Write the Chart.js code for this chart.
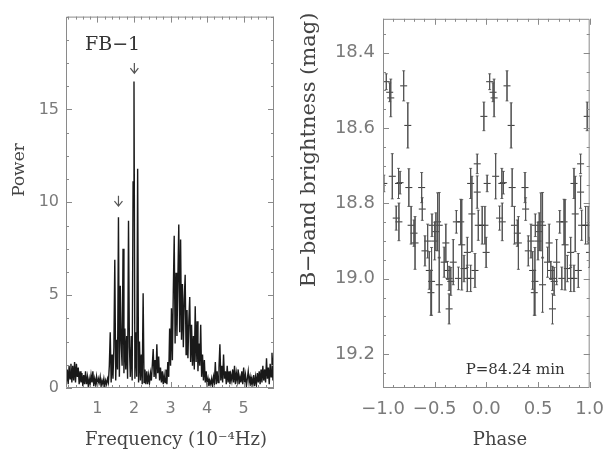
<!DOCTYPE html>
<html>
<head>
<meta charset="utf-8">
<script src="https://cdn.jsdelivr.net/npm/chart.js@4.4.0/dist/chart.umd.min.js"></script>
<style>
    body { margin: 0; background: #ffffff; }
    #idChartPower { position: absolute; left: 0; top: 0; }
    #idChartPhase { position: absolute; left: 300px; top: 0; }
</style>
</head>
<body>
<canvas id="idChartPower" width="300" height="451"></canvas>
<canvas id="idChartPhase" width="315" height="451"></canvas>
<script>
// periodogram of FB-1 (frequency in 1e-4 Hz)
var aFreq = [
    0.150, 0.175, 0.200, 0.225, 0.250, 0.275, 0.300, 0.325,
    0.350, 0.375, 0.400, 0.425, 0.450, 0.475, 0.500, 0.525,
    0.550, 0.575, 0.600, 0.625, 0.650, 0.675, 0.700, 0.725,
    0.750, 0.775, 0.800, 0.825, 0.850, 0.875, 0.900, 0.925,
    0.950, 0.975, 1.000, 1.025, 1.050, 1.075, 1.100, 1.125,
    1.150, 1.175, 1.200, 1.225, 1.250, 1.275, 1.300, 1.325,
    1.350, 1.375, 1.400, 1.425, 1.450, 1.475, 1.500, 1.525,
    1.550, 1.575, 1.600, 1.625, 1.650, 1.675, 1.700, 1.725,
    1.750, 1.775, 1.800, 1.825, 1.850, 1.875, 1.900, 1.925,
    1.950, 1.975, 2.000, 2.025, 2.050, 2.075, 2.100, 2.125,
    2.150, 2.175, 2.200, 2.225, 2.250, 2.275, 2.300, 2.325,
    2.350, 2.375, 2.400, 2.425, 2.450, 2.475, 2.500, 2.525,
    2.550, 2.575, 2.600, 2.625, 2.650, 2.675, 2.700, 2.725,
    2.750, 2.775, 2.800, 2.825, 2.850, 2.875, 2.900, 2.925,
    2.950, 2.975, 3.000, 3.025, 3.050, 3.075, 3.100, 3.125,
    3.150, 3.175, 3.200, 3.225, 3.250, 3.275, 3.300, 3.325,
    3.350, 3.375, 3.400, 3.425, 3.450, 3.475, 3.500, 3.525,
    3.550, 3.575, 3.600, 3.625, 3.650, 3.675, 3.700, 3.725,
    3.750, 3.775, 3.800, 3.825, 3.850, 3.875, 3.900, 3.925,
    3.950, 3.975, 4.000, 4.025, 4.050, 4.075, 4.100, 4.125,
    4.150, 4.175, 4.200, 4.225, 4.250, 4.275, 4.300, 4.325,
    4.350, 4.375, 4.400, 4.425, 4.450, 4.475, 4.500, 4.525,
    4.550, 4.575, 4.600, 4.625, 4.650, 4.675, 4.700, 4.725,
    4.750, 4.775, 4.800, 4.825, 4.850, 4.875, 4.900, 4.925,
    4.950, 4.975, 5.000, 5.025, 5.050, 5.075, 5.100, 5.125,
    5.150, 5.175, 5.200, 5.225, 5.250, 5.275, 5.300, 5.325,
    5.350, 5.375, 5.400, 5.425, 5.450, 5.475, 5.500, 5.525,
    5.550, 5.575, 5.600, 5.625, 5.650, 5.675, 5.700, 5.725,
    5.750, 5.775, 5.800, 5.825
];
var aPower = [
    0.3, 1.0, 0.2, 1.2, 0.5, 1.3, 0.3, 1.2,
    0.4, 1.4, 0.3, 1.3, 0.6, 1.1, 0.2, 0.9,
    0.3, 0.8, 0.1, 0.7, 0.2, 0.9, 0.2, 0.6,
    0.1, 0.5, 0.2, 0.7, 0.3, 0.9, 0.1, 0.5,
    0.2, 0.6, 0.1, 0.5, 0.3, 0.6, 0.1, 0.4,
    0.2, 0.5, 0.1, 0.4, 0.2, 0.5, 0.3, 1.2,
    3.0, 0.3, 1.8, 0.5, 2.2, 6.9, 0.4, 2.6,
    1.0, 9.2, 0.6, 5.5, 2.4, 1.2, 7.5, 0.8,
    3.2, 1.0, 2.8, 0.5, 9.0, 2.2, 0.6, 2.8,
    0.4, 11.1, 16.5, 0.5, 3.0, 0.6, 11.8, 0.3,
    2.5, 0.4, 1.8, 0.2, 5.1, 0.3, 1.0, 0.2,
    0.9, 0.2, 0.7, 0.3, 0.8, 0.4, 1.2, 2.1,
    0.6, 1.5, 0.5, 2.35, 0.8, 1.7, 0.4, 1.1,
    0.3, 0.9, 0.2, 0.7, 0.3, 1.0, 0.2, 1.4,
    0.6, 3.2, 1.2, 4.3, 1.5, 5.2, 8.2, 2.4,
    6.2, 2.8, 5.8, 8.8, 3.0, 8.0, 2.6, 5.6,
    2.2, 4.8, 6.1, 1.8, 4.2, 1.6, 3.6, 4.9,
    1.4, 3.4, 1.2, 2.8, 1.0, 4.4, 1.4, 3.6,
    0.9, 2.4, 1.2, 3.4, 0.6, 1.8, 0.4, 1.5,
    0.3, 0.9, 0.2, 0.5, 0.1, 0.4, 0.2, 0.5,
    0.1, 0.6, 0.3, 1.4, 0.2, 0.9, 0.3, 1.1,
    2.35, 0.4, 1.2, 0.3, 1.8, 0.5, 0.9, 0.2,
    1.2, 0.3, 0.9, 0.2, 0.7, 0.4, 1.0, 0.3,
    1.2, 0.2, 0.8, 0.4, 1.0, 0.2, 0.6, 0.3,
    0.9, 0.2, 1.1, 0.3, 0.7, 0.1, 0.5, 0.9,
    0.3, 0.6, 0.1, 0.5, 0.2, 0.7, 0.1, 0.6,
    0.2, 0.8, 0.3, 0.9, 0.2, 1.0, 0.3, 1.2,
    0.4, 1.0, 0.3, 1.6, 0.5, 1.1, 0.2, 1.3,
    0.6, 1.9, 0.4, 2.0
];
var aFreqTicks = [1, 2, 3, 4, 5];
var aPowerTicks = [0, 5, 10, 15];

// folded B-band light curve, one cycle (plotted twice)
var aPhase = [
    0.008, 0.032, 0.065, 0.075, 0.090, 0.128, 0.150, 0.154, 0.165, 0.200,
    0.240, 0.250, 0.272, 0.300, 0.310, 0.374, 0.380, 0.406, 0.432, 0.448,
    0.464, 0.470, 0.474, 0.500, 0.512, 0.528, 0.544, 0.544, 0.592, 0.608,
    0.624, 0.640, 0.640, 0.656, 0.680, 0.710, 0.730, 0.752, 0.762, 0.784,
    0.816, 0.816, 0.848, 0.848, 0.860, 0.890, 0.912, 0.912, 0.922, 0.960,
    0.976, 0.986, 0.998
];
var aMag = [
    18.747, 18.477, 18.505, 18.520, 18.728, 18.839, 18.747, 18.849, 18.745, 18.488,
    18.593, 18.758, 18.858, 18.879, 18.905, 18.758, 18.815, 18.926, 18.900, 18.978,
    19.037, 19.007, 18.858, 18.900, 18.875, 18.849, 18.858, 19.016, 18.956, 18.905,
    18.978, 18.999, 19.080, 19.007, 18.956, 18.849, 18.999, 18.849, 18.910, 18.973,
    18.930, 18.999, 18.999, 18.747, 18.828, 18.978, 18.695, 18.770, 18.858, 18.858,
    18.569, 18.858, 18.930
];
var aErr = [
    0.022, 0.021, 0.025, 0.050, 0.060, 0.032, 0.040, 0.050, 0.030, 0.040,
    0.060, 0.050, 0.050, 0.035, 0.070, 0.040, 0.030, 0.040, 0.045, 0.050,
    0.060, 0.090, 0.030, 0.050, 0.050, 0.077, 0.087, 0.073, 0.040, 0.050,
    0.024, 0.032, 0.040, 0.037, 0.060, 0.030, 0.030, 0.060, 0.120, 0.035,
    0.040, 0.035, 0.035, 0.040, 0.100, 0.045, 0.026, 0.043, 0.040, 0.050,
    0.038, 0.050, 0.040
];
var aPhaseTicks = [-1, -0.5, 0, 0.5, 1];
var aMagTicks = [18.4, 18.6, 18.8, 19.0, 19.2];

// box with inward ticks on all four sides, IDL style
const idlFrame = {
    id: 'idlFrame',
    afterDatasetsDraw(chart, args, opts) {
        var ctx = chart.ctx;
        var a = chart.chartArea;
        var sx = chart.scales.x;
        var sy = chart.scales.y;
        ctx.save();
        ctx.strokeStyle = opts.color;
        ctx.lineWidth = 1;
        ctx.beginPath();
        ctx.rect(a.left + 0.5, a.top + 0.5, a.right - a.left - 1, a.bottom - a.top - 1);

        function stepValues(scale, step) {
            var aVals = [];
            for (var k = Math.ceil(scale.min / step - 1e-6); k * step <= scale.max + 1e-9; k++) {
                aVals.push(k * step);
            }
            return aVals;
        }
        function xTick(v, len) {
            var px = Math.round(sx.getPixelForValue(v)) + 0.5;
            ctx.moveTo(px, a.bottom);
            ctx.lineTo(px, a.bottom - len);
            ctx.moveTo(px, a.top);
            ctx.lineTo(px, a.top + len);
        }
        function yTick(v, len) {
            var py = Math.round(sy.getPixelForValue(v)) + 0.5;
            ctx.moveTo(a.left, py);
            ctx.lineTo(a.left + len, py);
            ctx.moveTo(a.right, py);
            ctx.lineTo(a.right - len, py);
        }
        stepValues(sx, opts.xMinor).forEach(function (v) { xTick(v, opts.minorLen); });
        stepValues(sy, opts.yMinor).forEach(function (v) { yTick(v, opts.minorLen); });
        sx.ticks.forEach(function (t) { xTick(t.value, opts.majorLen); });
        sy.ticks.forEach(function (t) { yTick(t.value, opts.majorLen); });
        ctx.stroke();
        ctx.restore();
    }
};

// free text and arrows
const textLabels = {
    id: 'textLabels',
    afterDraw(chart, args, opts) {
        var ctx = chart.ctx;
        (opts.items || []).forEach(function (o) {
            var x = o.x;
            var y = o.y;
            if (o.data) {
                x = chart.scales.x.getPixelForValue(o.x);
                y = chart.scales.y.getPixelForValue(o.y);
            }
            ctx.save();
            ctx.font = o.font;
            ctx.fillStyle = o.color;
            ctx.textAlign = o.align || 'center';
            ctx.textBaseline = o.baseline || 'middle';
            ctx.translate(x, y);
            if (o.rotate) {
                ctx.rotate(o.rotate);
            }
            ctx.fillText(o.text, 0, 0);
            ctx.restore();
        });
        (opts.arrows || []).forEach(function (o) {
            var px = chart.scales.x.getPixelForValue(o.x);
            var py0 = chart.scales.y.getPixelForValue(o.y0);
            var py1 = chart.scales.y.getPixelForValue(o.y1);
            ctx.save();
            ctx.strokeStyle = o.color;
            ctx.lineWidth = 1.2;
            ctx.beginPath();
            ctx.moveTo(px, py0);
            ctx.lineTo(px, py1);
            ctx.moveTo(px - 4, py1 - 5);
            ctx.lineTo(px, py1);
            ctx.lineTo(px + 4, py1 - 5);
            ctx.stroke();
            ctx.restore();
        });
    }
};

function initChartPower() {

    var aData = [];
    for (var i = 0; i < aFreq.length; i++) {
        aData.push({
            x: aFreq[i],
            y: aPower[i]
        });
    }

    const data = {
        datasets: [{
            label: 'Power',
            borderColor: 'rgba(0, 0, 0, 0.9)',
            borderWidth: 1.4,
            pointRadius: 0,
            tension: 0,
            data: aData
        }]
    };

    const config = {
        type: 'line',
        data: data,
        options: {
            responsive: false,
            animation: false,
            events: [],
            layout: {
                padding: { top: 6, right: 26, left: 0, bottom: 0 }
            },
            scales: {
                x: {
                    type: 'linear',
                    min: 0.14,
                    max: 5.83,
                    afterBuildTicks: function (scale) {
                        scale.ticks = aFreqTicks.map(function (v) { return { value: v }; });
                    },
                    afterFit: function (scale) { scale.height = 63; },
                    grid: { display: false, drawTicks: false },
                    border: { display: false },
                    ticks: {
                        autoSkip: false,
                        maxRotation: 0,
                        padding: 11,
                        color: '#7a7a7a',
                        font: { family: 'DejaVu Sans', size: 16 }
                    }
                },
                y: {
                    min: 0,
                    max: 20,
                    afterBuildTicks: function (scale) {
                        scale.ticks = aPowerTicks.map(function (v) { return { value: v }; });
                    },
                    afterFit: function (scale) { scale.width = 66; },
                    grid: { display: false, drawTicks: false },
                    border: { display: false },
                    ticks: {
                        autoSkip: false,
                        padding: 7,
                        color: '#7a7a7a',
                        font: { family: 'DejaVu Sans', size: 16 }
                    }
                }
            },
            plugins: {
                legend: { display: false },
                tooltip: { enabled: false },
                idlFrame: { color: '#8a8a8a', xMinor: 0.2, yMinor: 1.25, majorLen: 6, minorLen: 3 },
                textLabels: {
                    items: [
                        { text: 'FB\u22121', x: 0.66, y: 18.2, data: true, align: 'left', baseline: 'alphabetic', font: '19px "DejaVu Serif"', color: '#333333' },
                        { text: 'Power', x: 20, y: 170, rotate: -Math.PI / 2, font: '17px "DejaVu Serif"', color: '#444444' },
                        { text: 'Frequency (10\u207B\u2074Hz)', x: 176, y: 440, font: '18px "DejaVu Serif"', color: '#444444' }
                    ],
                    arrows: [
                        { x: 2.01, y0: 17.5, y1: 16.95, color: '#555555' },
                        { x: 1.575, y0: 10.35, y1: 9.8, color: '#555555' }
                    ]
                }
            }
        },
        plugins: [idlFrame, textLabels]
    };

    const oChartPower = new Chart(
        document.getElementById('idChartPower'),
        config
    );
}

function initChartPhase() {

    var aBars = [];
    var aCaps = [];
    var aCentres = [];

    // every point is shown at phase p-1 and p
    [-1, 0].forEach(function (iShift) {
        for (var i = 0; i < aPhase.length; i++) {
            var x = aPhase[i] + iShift;
            aBars.push({ x: x, y: aMag[i] - aErr[i] });
            aBars.push({ x: x, y: aMag[i] + aErr[i] });
            aBars.push({ x: x, y: null });
            aCaps.push({ x: x, y: aMag[i] - aErr[i] });
            aCaps.push({ x: x, y: aMag[i] + aErr[i] });
            aCentres.push({ x: x, y: aMag[i] });
        }
    });

    const data = {
        datasets: [{
            label: 'error',
            borderColor: 'rgba(80, 80, 80, 0.8)',
            borderWidth: 1,
            pointRadius: 0,
            spanGaps: false,
            data: aBars
        }, {
            label: 'caps',
            showLine: false,
            pointStyle: 'line',
            pointRadius: 1.5,
            pointBorderWidth: 1,
            pointBorderColor: 'rgba(80, 80, 80, 0.8)',
            data: aCaps
        }, {
            label: 'B',
            showLine: false,
            pointStyle: 'line',
            pointRadius: 3.5,
            pointBorderWidth: 1,
            pointBorderColor: 'rgba(30, 30, 30, 0.9)',
            data: aCentres
        }]
    };

    const config = {
        type: 'line',
        data: data,
        options: {
            responsive: false,
            animation: false,
            events: [],
            layout: {
                padding: { top: 6, right: 23, left: 0, bottom: 0 }
            },
            scales: {
                x: {
                    type: 'linear',
                    min: -1,
                    max: 1,
                    afterBuildTicks: function (scale) {
                        scale.ticks = aPhaseTicks.map(function (v) { return { value: v }; });
                    },
                    afterFit: function (scale) { scale.height = 63; },
                    grid: { display: false, drawTicks: false },
                    border: { display: false },
                    ticks: {
                        autoSkip: false,
                        maxRotation: 0,
                        padding: 11,
                        color: '#7a7a7a',
                        font: { family: 'DejaVu Sans', size: 18 },
                        callback: function (v) {
                            return (v < 0 ? '\u2212' : '') + Math.abs(v).toFixed(1);
                        }
                    }
                },
                y: {
                    reverse: true,
                    min: 18.31,
                    max: 19.29,
                    afterBuildTicks: function (scale) {
                        scale.ticks = aMagTicks.map(function (v) { return { value: v }; });
                    },
                    afterFit: function (scale) { scale.width = 83; },
                    grid: { display: false, drawTicks: false },
                    border: { display: false },
                    ticks: {
                        autoSkip: false,
                        padding: 8,
                        color: '#7a7a7a',
                        font: { family: 'DejaVu Sans', size: 18 },
                        callback: function (v) { return v.toFixed(1); }
                    }
                }
            },
            plugins: {
                legend: { display: false },
                tooltip: { enabled: false },
                idlFrame: { color: '#8a8a8a', xMinor: 0.1, yMinor: 0.05, majorLen: 6, minorLen: 3 },
                textLabels: {
                    items: [
                        { text: 'B\u2212band brightness (mag)', x: 10, y: 150, rotate: -Math.PI / 2, font: '21px "DejaVu Serif"', color: '#444444' },
                        { text: 'Phase', x: 200, y: 440, font: '18px "DejaVu Serif"', color: '#444444' },
                        { text: 'P=84.24 min', x: -0.2, y: 19.254, data: true, align: 'left', baseline: 'alphabetic', font: '15px "DejaVu Serif"', color: '#333333' }
                    ]
                }
            }
        },
        plugins: [idlFrame, textLabels]
    };

    const oChartPhase = new Chart(
        document.getElementById('idChartPhase'),
        config
    );
}

initChartPower();
initChartPhase();
</script>
</body>
</html>
